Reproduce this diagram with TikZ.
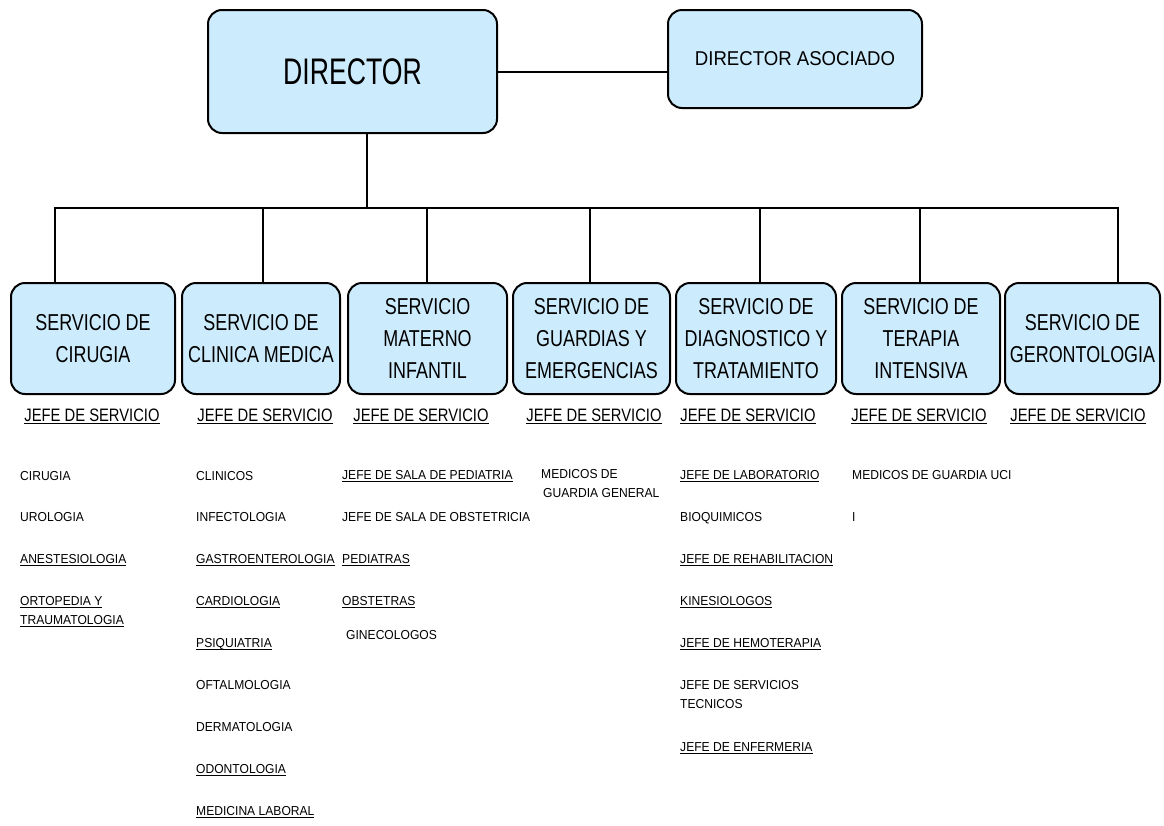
\documentclass[tikz,border=0pt]{standalone}
\usepackage{fontspec}
\setmainfont{Liberation Sans}
\newfontfamily\fDir[FakeStretch=0.72]{Liberation Sans}
\newfontfamily\fBox[FakeStretch=0.78]{Liberation Sans}
\newfontfamily\fJefe[FakeStretch=0.82]{Liberation Sans}
\newfontfamily\fItem[FakeStretch=0.93]{Liberation Sans}
\definecolor{boxblue}{RGB}{204,235,252}
\newsavebox\ulbox
\newcommand\uln[1]{\sbox\ulbox{#1}\rlap{\rule[-3pt]{\wd\ulbox}{1.3pt}}\usebox\ulbox}
\tikzset{
  box/.style={draw=black, line width=2pt, fill=boxblue, rounded corners=14pt, align=center, inner sep=0pt},
  svc/.style={box, font=\fBox\fontsize{23}{32}\selectfont},
  conn/.style={line width=2.8pt},
  item/.style={anchor=base west, inner sep=0pt, align=left, font=\fItem\fontsize{13}{19}\selectfont},
  jefe/.style={anchor=base, inner sep=0pt, font=\fJefe\fontsize{18}{20}\selectfont}
}
\begin{document}
\begin{tikzpicture}[x=1pt,y=-1pt]
\useasboundingbox (0,0) rectangle (1164,825);
% top
\node[box, minimum width=289pt, minimum height=123pt, font=\fDir\fontsize{37}{40}\selectfont] (dir) at (352.5,71.5) {DIRECTOR};
\node[box, minimum width=254pt, minimum height=98pt, font=\fItem\fontsize{20}{24}\selectfont] (aso) at (795,59) {DIRECTOR ASOCIADO};
\draw[conn] (dir.east |- 0,72) -- (aso.west |- 0,72);
% services
\node[svc, minimum width=164pt, minimum height=111pt] (s1) at (93,338.5) {SERVICIO DE\\CIRUGIA};
\node[svc, minimum width=158pt, minimum height=111pt] (s2) at (261,338.5) {SERVICIO DE\\CLINICA MEDICA};
\node[svc, minimum width=159pt, minimum height=111pt] (s3) at (427.5,338.5) {SERVICIO\\MATERNO\\INFANTIL};
\node[svc, minimum width=157pt, minimum height=111pt] (s4) at (591.5,338.5) {SERVICIO DE\\GUARDIAS Y\\EMERGENCIAS};
\node[svc, minimum width=160pt, minimum height=111pt] (s5) at (756,338.5) {SERVICIO DE\\DIAGNOSTICO Y\\TRATAMIENTO};
\node[svc, minimum width=158pt, minimum height=111pt] (s6) at (921,338.5) {SERVICIO DE\\TERAPIA\\INTENSIVA};
\node[svc, minimum width=155pt, minimum height=111pt] (s7) at (1082.5,338.5) {SERVICIO DE\\GERONTOLOGIA};
% bus
\coordinate (bus) at (367,208);
\coordinate (b1) at (55,208);
\coordinate (b2) at (263,208);
\coordinate (b3) at (427,208);
\coordinate (b4) at (590,208);
\coordinate (b5) at (760,208);
\coordinate (b6) at (920,208);
\coordinate (b7) at (1118,208);
\draw[conn] (dir.south -| bus) -- (bus);
\draw[conn] ([xshift=-1.4pt]b1) -- ([xshift=1.4pt]b7);
\foreach \i in {1,...,7}{\draw[conn] (b\i) -- (b\i |- s\i.north);}
% jefe labels
\node[jefe] (j1) at (92,421) {\uln{JEFE DE SERVICIO}};
\node[jefe] (j2) at (265,421) {\uln{JEFE DE SERVICIO}};
\node[jefe] (j3) at (421,421) {\uln{JEFE DE SERVICIO}};
\node[jefe] (j4) at (594,421) {\uln{JEFE DE SERVICIO}};
\node[jefe] (j5) at (748,421) {\uln{JEFE DE SERVICIO}};
\node[jefe] (j6) at (919,421) {\uln{JEFE DE SERVICIO}};
\node[jefe] (j7) at (1078,421) {\uln{JEFE DE SERVICIO}};
% column 1
\node[item] (c1a) at (20,480) {CIRUGIA};
\node[item] (c1b) at (20,521) {UROLOGIA};
\node[item] (c1c) at (20,563) {\uln{ANESTESIOLOGIA}};
\node[item] (c1d) at (20,624) {\uln{ORTOPEDIA Y}\\\uln{TRAUMATOLOGIA}};
% column 2
\node[item] (c2a) at (196,480) {CLINICOS};
\node[item] (c2b) at (196,521) {INFECTOLOGIA};
\node[item] (c2c) at (196,563) {\uln{GASTROENTEROLOGIA}};
\node[item] (c2d) at (196,605) {\uln{CARDIOLOGIA}};
\node[item] (c2e) at (196,647) {\uln{PSIQUIATRIA}};
\node[item] (c2f) at (196,689) {OFTALMOLOGIA};
\node[item] (c2g) at (196,731) {DERMATOLOGIA};
\node[item] (c2h) at (196,773) {\uln{ODONTOLOGIA}};
\node[item] (c2i) at (196,815) {\uln{MEDICINA LABORAL}};
% column 3
\node[item] (c3a) at (342,479) {\uln{JEFE DE SALA DE PEDIATRIA}};
\node[item] (c3b) at (342,521) {JEFE DE SALA DE OBSTETRICIA};
\node[item] (c3c) at (342,563) {\uln{PEDIATRAS}};
\node[item] (c3d) at (342,605) {\uln{OBSTETRAS}};
\node[item] (c3e) at (346,639) {GINECOLOGOS};
% column 4
\node[item] (c4a) at (541,497) {MEDICOS DE\\\hspace*{2pt}GUARDIA GENERAL};
% column 5
\node[item] (c5a) at (680,479) {\uln{JEFE DE LABORATORIO}};
\node[item] (c5b) at (680,521) {BIOQUIMICOS};
\node[item] (c5c) at (680,563) {\uln{JEFE DE REHABILITACION}};
\node[item] (c5d) at (680,605) {\uln{KINESIOLOGOS}};
\node[item] (c5e) at (680,647) {\uln{JEFE DE HEMOTERAPIA}};
\node[item] (c5f) at (680,708) {JEFE DE SERVICIOS\\TECNICOS};
\node[item] (c5g) at (680,751) {\uln{JEFE DE ENFERMERIA}};
% column 6
\node[item] (c6a) at (852,479) {MEDICOS DE GUARDIA UCI};
\node[item] (c6b) at (852,521) {I};
\end{tikzpicture}
\end{document}
